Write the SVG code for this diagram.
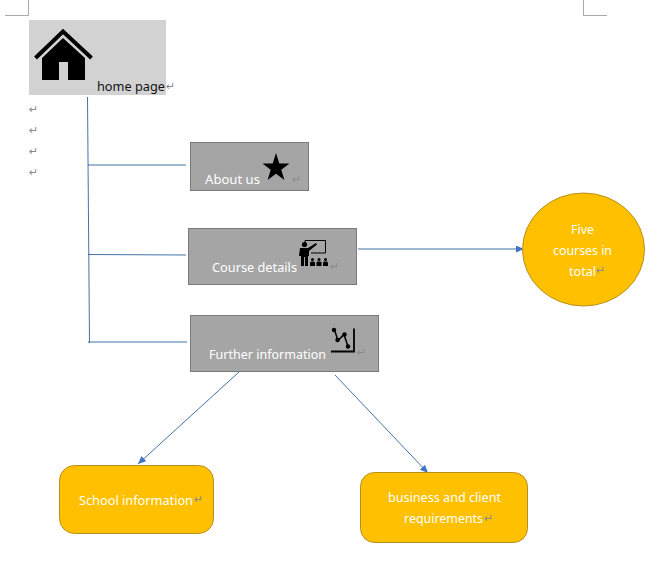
<svg xmlns="http://www.w3.org/2000/svg" width="667" height="576" viewBox="0 0 667 576">
<style>
text{font-family:"Noto Sans","Liberation Sans",sans-serif;font-size:13px}
.w{fill:#fff}
.d{fill:#111}
.p{fill:#8a8a8a;font-family:"DejaVu Sans",sans-serif;font-size:11px}
.g{fill:#a5a5a5;stroke:#7a7a7a;stroke-width:1}
.o{fill:#ffc000;stroke:#b8901e;stroke-width:1}
.c{fill:none;stroke:#4472a8;stroke-width:1}
.m{fill:none;stroke:#a8a8a8;stroke-width:1}
</style>
<defs>
<marker id="a" markerWidth="8" markerHeight="7" refX="8" refY="3.500" orient="auto" markerUnits="userSpaceOnUse"><path d="M0 0L8 3.500L0 7z" fill="#4472c4"/></marker>
</defs>
<rect width="667" height="576" fill="#fff"/>
<g id="page-marks">
<path class="m" d="M5 15.500H28.500V0M607 15.500H583.500V0"/>
<text class="p" x="29" y="113">↵</text>
<text class="p" x="29" y="134">↵</text>
<text class="p" x="29" y="155">↵</text>
<text class="p" x="29" y="176">↵</text>
</g>
<g id="connectors">
<path class="c" d="M87.500 97L89.500 343"/>
<path class="c" d="M88 165H186"/>
<path class="c" d="M88 254.500L186 255"/>
<path class="c" d="M88 342H187"/>
<path class="c" d="M358 249H524" marker-end="url(#a)"/>
<path class="c" d="M239 372L138 464" marker-end="url(#a)"/>
<path class="c" d="M335 375L428 473" marker-end="url(#a)"/>
</g>
<g id="home">
<rect x="29" y="20" width="137" height="75" fill="#d2d2d2"/>
<path d="M35.500 58L63 31.500L91.500 58" fill="none" stroke="#000" stroke-width="4"/>
<path d="M42 58L63 38L85 58V80H68V62H59V80H42z" fill="#000"/>
<text class="d" x="97" y="91" textLength="68" lengthAdjust="spacingAndGlyphs">home page</text>
<text class="p" x="166" y="90">↵</text>
</g>
<g id="about">
<rect class="g" x="190.500" y="142.500" width="118" height="48"/>
<path d="M276 153L279.300 163.500H289.500L281.300 169.700L284.400 180L276 173.700L267.600 180L270.700 169.700L262.500 163.500H272.700z" fill="#000"/>
<text class="w" x="205" y="184" textLength="55" lengthAdjust="spacingAndGlyphs">About us</text>
<text class="p" x="292" y="183">↵</text>
</g>
<g id="course">
<rect class="g" x="188.500" y="228.500" width="168" height="56"/>
<path d="M305 243V240.500H325.500V253H311" fill="none" stroke="#000" stroke-width="1"/>
<circle cx="304.500" cy="244.500" r="2.600" fill="#000"/>
<path d="M300 248H308L316 243L317 244.500L309 251V256H308V266H305V257H304V266H301V256H299z" fill="#000"/>
<g fill="#000">
<circle cx="312.500" cy="259.500" r="1.500"/><path d="M310 266V262.500L311 261.500H314L315 262.500V266z"/>
<circle cx="319" cy="259.500" r="1.500"/><path d="M316.500 266V262.500L317.500 261.500H320.500L321.500 262.500V266z"/>
<circle cx="325.500" cy="259.500" r="1.500"/><path d="M323 266V262.500L324 261.500H327L328 262.500V266z"/>
</g>
<text class="w" x="212" y="272" textLength="85" lengthAdjust="spacingAndGlyphs">Course details</text>
<text class="p" x="330" y="270">↵</text>
</g>
<g id="further">
<rect class="g" x="190.500" y="315.500" width="188" height="56"/>
<path d="M354 328.500V351.500H331" fill="none" stroke="#000" stroke-width="1.800"/>
<path d="M334.500 330L338 340.500L344 334.500L348 346.500" fill="none" stroke="#000" stroke-width="1.500"/>
<circle cx="334" cy="330" r="2.200" fill="#000"/>
<circle cx="337.500" cy="340" r="2.200" fill="#000"/>
<circle cx="344.500" cy="334.500" r="2.200" fill="#000"/>
<circle cx="348" cy="346.500" r="2.200" fill="#000"/>
<text class="w" x="209" y="359" textLength="117" lengthAdjust="spacingAndGlyphs">Further information</text>
<text class="p" x="357" y="356">↵</text>
</g>
<g id="five-courses">
<ellipse class="o" cx="583.500" cy="249.500" rx="61" ry="56.500"/>
<text class="w" x="571" y="234" textLength="23" lengthAdjust="spacingAndGlyphs">Five</text>
<text class="w" x="553" y="255" textLength="59" lengthAdjust="spacingAndGlyphs">courses in</text>
<text class="w" x="569" y="276" textLength="27" lengthAdjust="spacingAndGlyphs">total</text>
<text class="p" x="596" y="274">↵</text>
</g>
<g id="school">
<rect class="o" x="59.500" y="465.500" width="154" height="68" rx="15"/>
<text class="w" x="79" y="505" textLength="114" lengthAdjust="spacingAndGlyphs">School information</text>
<text class="p" x="194" y="503">↵</text>
</g>
<g id="business">
<rect class="o" x="360.500" y="472.500" width="167" height="70" rx="14"/>
<text class="w" x="388" y="502" textLength="113" lengthAdjust="spacingAndGlyphs">business and client</text>
<text class="w" x="404" y="523" textLength="79" lengthAdjust="spacingAndGlyphs">requirements</text>
<text class="p" x="484" y="522">↵</text>
</g>
</svg>
